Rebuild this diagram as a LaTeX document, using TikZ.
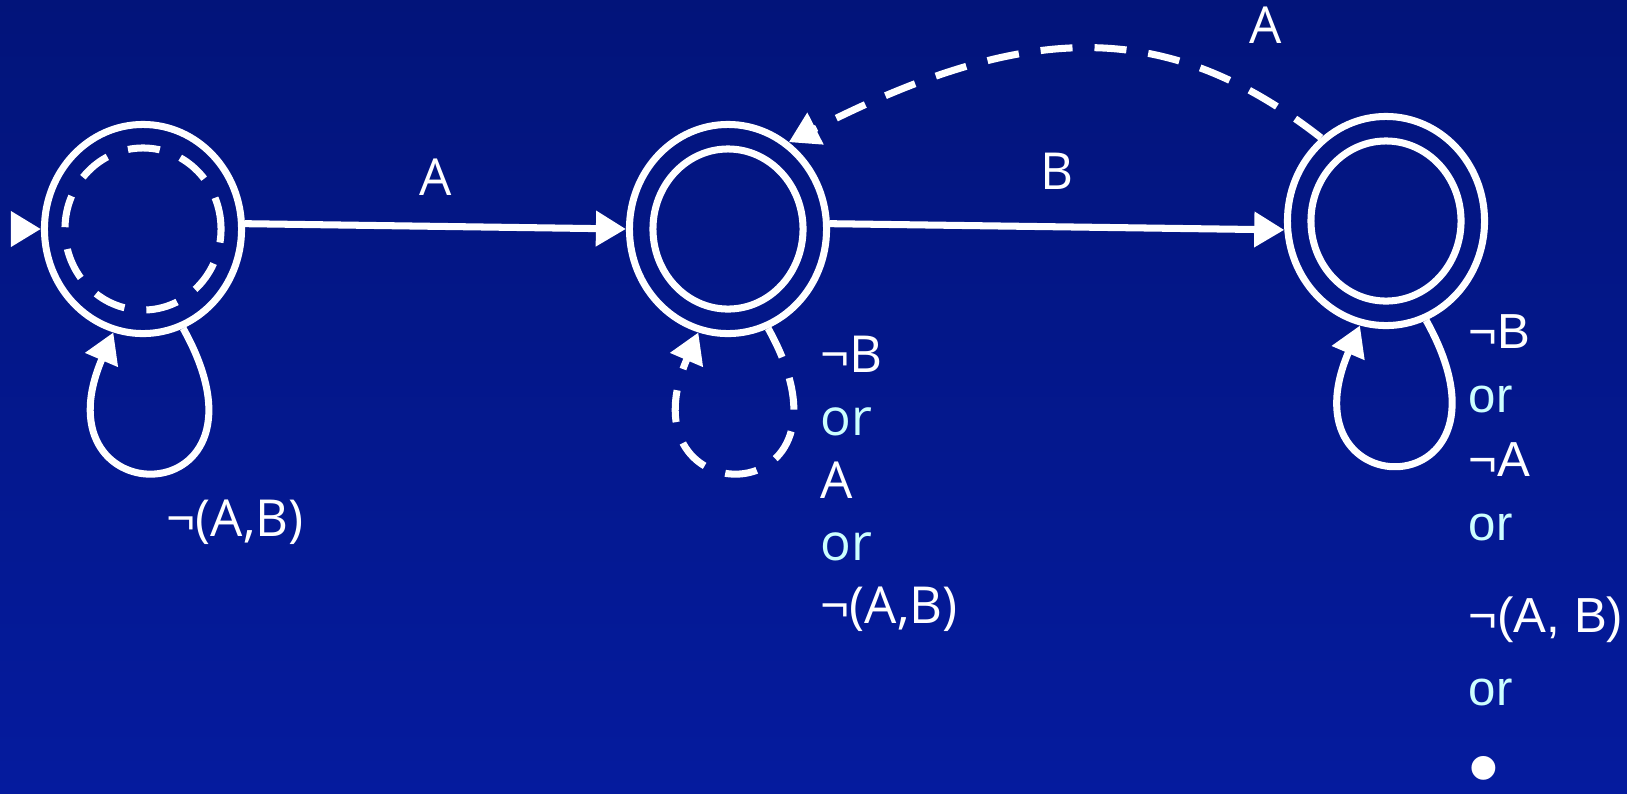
\documentclass[tikz,border=0pt]{standalone}
\usepackage{fontspec}
\setmainfont{Open Sans}
\newfontfamily\colfont{Liberation Sans}
\usetikzlibrary{arrows.meta, shapes.geometric, math}
\definecolor{bgtop}{RGB}{2,20,122}
\definecolor{bgbot}{RGB}{5,27,158}
\definecolor{orcyan}{RGB}{204,255,255}

\tikzset{
  state/.style={ellipse, draw=white, line width=2pt, minimum width=1.97cm, minimum height=2.09cm, inner sep=0pt},
  innerring/.style={ellipse, draw=white, line width=2pt, minimum width=1.5cm, minimum height=1.6cm, inner sep=0pt},
  trans/.style={draw=white, line width=2pt, -{Triangle[length=3mm, width=3.4mm]}},
  dashline/.style={dash pattern=on 3.2mm off 2.2mm},
  lbl/.style={text=white, font=\fontsize{14.5}{17.9}\selectfont, inner sep=0pt},
}

\begin{document}
\begin{tikzpicture}[x=0.01cm, y=-0.01cm]

\tikzmath{
\lx = 105; \ly = 188; %loop, leaving side
\rx = -80; \ry = 186; %loop, entering side
}

\shade[top color=bgtop, bottom color=bgbot] (0,0) rectangle (1627,793);
\useasboundingbox (0,0) rectangle (1627,793);

%states:
\node[state] (s1) at (143,229) {};
\node[innerring, dashline, minimum width=1.56cm, minimum height=1.62cm] (s1in) at (s1) {};
\node[state] (s2) at (728,229) {};
\node[innerring] (s2in) at (s2) {};
\node[state] (s3) at (1386,221) {};
\node[innerring] (s3in) at (s3) {};

%start:
\coordinate (init) at (12,229);
\draw[trans] (init) -- (s1);

%transitions:
\draw[trans] (s1.3) -- (s2.west) node[lbl, midway, above=0.27cm] (la) {A};
\draw[trans] (s2.3) -- (s3.185) node[lbl, midway, above=0.34cm] (lb) {B};
\draw[trans, dashline] (s3.128) .. controls +(-155,-121) and +(237,-121) .. (s2.55)
  node[lbl, pos=0.12, above=0.53cm] (lback) {A};

%loops:
\draw[trans] (s1.-68) .. controls +(\lx,\ly) and +(\rx,\ry) .. (s1.-106);
\draw[trans, dashline] (s2.-68) .. controls +(\lx,\ly) and +(\rx,\ry) .. (s2.-106);
\draw[trans] (s3.-68) .. controls +(\lx,\ly) and +(\rx,\ry) .. (s3.-104);

\node[lbl, anchor=base west] (l1) at (166,536) {¬(A,B)};
\node[lbl, anchor=north west, align=left] (l2) at (820,335)
  {¬B\\ \textcolor{orcyan}{or}\\ A\\ \textcolor{orcyan}{or}\\ ¬(A,B)};
\node[lbl, anchor=north west, align=left, font=\colfont\fontsize{14}{18.2}\selectfont] (l3) at (1468,314)
  {¬B\\ \textcolor{orcyan}{or}\\ ¬A\\ \textcolor{orcyan}{or}\\[0.28cm] ¬(A, B)\\[0.09cm]
   \textcolor{orcyan}{or}\\[0.28cm] {\fontsize{25}{25}\selectfont •}};

\end{tikzpicture}
\end{document}
